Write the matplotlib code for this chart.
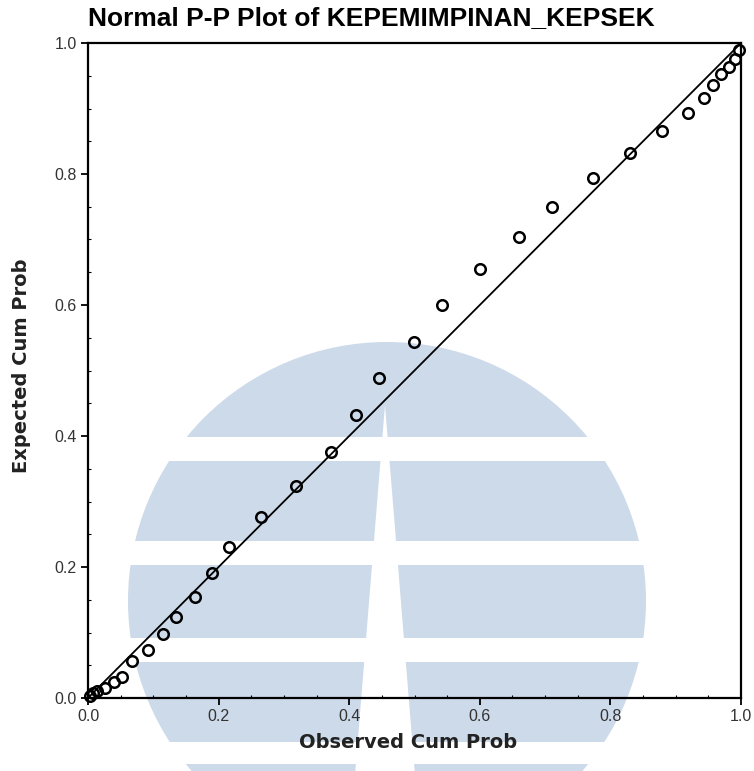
import matplotlib
matplotlib.use("Agg")
import matplotlib.pyplot as plt
from matplotlib.patches import Circle, Rectangle, Polygon
import numpy as np

# ---- data ----
observed = [0.003, 0.008, 0.014, 0.026, 0.040, 0.052, 0.067, 0.092, 0.115, 0.135,
            0.164, 0.190, 0.216, 0.265, 0.319, 0.372, 0.410, 0.446, 0.499, 0.542,
            0.600, 0.660, 0.711, 0.773, 0.830, 0.879, 0.919, 0.943, 0.957, 0.969,
            0.982, 0.991, 0.997]
expected = [0.003, 0.008, 0.011, 0.015, 0.024, 0.032, 0.056, 0.073, 0.098, 0.124,
            0.154, 0.191, 0.231, 0.276, 0.324, 0.376, 0.432, 0.489, 0.544, 0.600,
            0.655, 0.704, 0.750, 0.794, 0.832, 0.866, 0.893, 0.916, 0.936, 0.953,
            0.963, 0.976, 0.989]
ref_line = [0.0, 1.0]
ticks = [0.0, 0.2, 0.4, 0.6, 0.8, 1.0]
tick_labels = ["0.0", "0.2", "0.4", "0.6", "0.8", "1.0"]
title = "Normal P-P Plot of KEPEMIMPINAN_KEPSEK"
xlabel = "Observed Cum Prob"
ylabel = "Expected Cum Prob"

W, H = 754, 771
fig = plt.figure(figsize=(W / 100, H / 100), dpi=100)
fig.patch.set_facecolor("white")

# ---- background watermark (pixel coords, y from top) ----
wm = "#cddaea"
def py(y):
    return H - y
cx, cy, r = 387, 601, 259
fig.add_artist(Circle((cx, py(cy)), r, transform=None, facecolor=wm,
                      edgecolor="none", zorder=-3))
for (y0, y1) in [(437, 461), (541, 565), (638, 662), (742, 764)]:
    fig.add_artist(Rectangle((0, py(y1)), W, y1 - y0, transform=None,
                             facecolor="white", edgecolor="none", zorder=-2))
fig.add_artist(Polygon([(385, py(405)), (385 - 32, py(800)), (385 + 32, py(800))],
                       closed=True, transform=None, facecolor="white",
                       edgecolor="none", zorder=-2))

ax = fig.add_axes([88 / W, 1 - 698 / H, (741 - 88) / W, (698 - 43) / H])
ax.set_facecolor("none")

ax.plot(ref_line, ref_line, color="black", lw=1.3, zorder=2)
ax.plot(observed, expected, linestyle="none", marker="o", markersize=7.6,
        markerfacecolor="none", markeredgecolor="black", markeredgewidth=1.8,
        zorder=3, clip_on=False)

ax.set_xlim(0, 1)
ax.set_ylim(0, 1)
ax.set_xticks(ticks)
ax.set_yticks(ticks)
ax.set_xticklabels(tick_labels)
ax.set_yticklabels(tick_labels)
ax.set_xticks(np.arange(0, 1.0001, 0.05), minor=True)
ax.set_yticks(np.arange(0, 1.0001, 0.05), minor=True)
ax.tick_params(which="major", direction="out", length=5, width=1.3, color="black",
               labelsize=11.5, labelcolor="#333333", pad=3)
ax.tick_params(which="minor", direction="in", length=2.5, width=0.8, color="black")
for lab in ax.get_xticklabels() + ax.get_yticklabels():
    lab.set_family(["Liberation Sans", "DejaVu Sans"])
for s in ax.spines.values():
    s.set_linewidth(1.6)
    s.set_color("black")

fig.text(88 / W, 1 - 18 / H, title, ha="left", va="center", fontsize=19,
         fontweight="bold", family=["Liberation Sans", "DejaVu Sans"])
fig.text(408 / W, 1 - 743 / H, xlabel, ha="center", va="center", fontsize=14,
         fontweight="bold", family=["DejaVu Sans"], color="#222222")
fig.text(22 / W, 1 - 366 / H, ylabel, ha="center", va="center", rotation=90, fontsize=14,
         fontweight="bold", family=["DejaVu Sans"], color="#222222")

fig.savefig("out.png", dpi=100)
